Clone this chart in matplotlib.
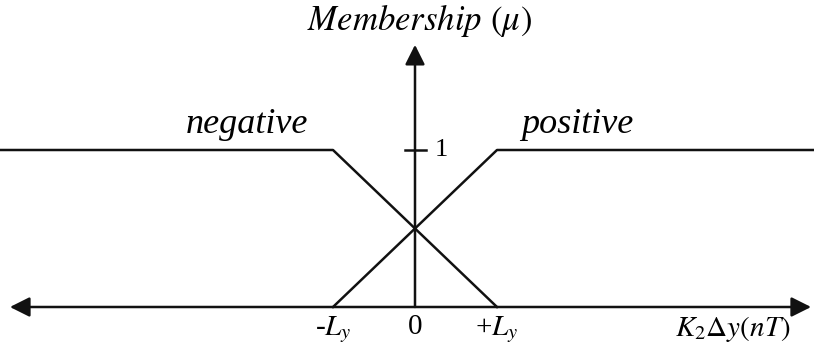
import numpy as np
import matplotlib.pyplot as plt

plt.rcParams['mathtext.fontset'] = 'stix'
plt.rcParams['font.family'] = ['Liberation Serif', 'DejaVu Serif']

# membership functions (x in units of L_y)
neg_x = [-5.2, -1.0, 1.0]
neg_mu = [1.0, 1.0, 0.0]
pos_x = [-1.0, 1.0, 5.0]
pos_mu = [0.0, 1.0, 1.0]

tick_pos = [-1.0, 0.0, 1.0]
tick_labels = [r'-$L_y$', '0', r'+$L_y$']

fig = plt.figure(figsize=(8.14, 3.52), dpi=100)
ax = fig.add_axes([0, 0, 1, 1])
ax.set_xlim(-415 / 82, 399 / 82)
ax.set_ylim(-45 / 157, 307 / 157)
ax.axis('off')

lc = '#111111'
ax.plot(neg_x, neg_mu, color=lc, lw=1.8)
ax.plot(pos_x, pos_mu, color=lc, lw=1.8)

# axes with arrow heads
ax.annotate('', xy=(-4.94, 0), xytext=(4.83, 0),
            arrowprops=dict(arrowstyle='<|-|>', color=lc, lw=1.8,
                            mutation_scale=30, shrinkA=0, shrinkB=0))
ax.annotate('', xy=(0, 1.67), xytext=(0, 0),
            arrowprops=dict(arrowstyle='-|>', color=lc, lw=1.8,
                            mutation_scale=30, shrinkA=0, shrinkB=0))

# tick mark at mu = 1
ax.plot([-0.12, 0.14], [1, 1], color=lc, lw=1.8)
ax.text(0.24, 1.0, '1', fontsize=19, ha='left', va='center')

for x, s in zip(tick_pos, tick_labels):
    ax.text(x, -0.045, s, fontsize=21, ha='center', va='top')

ax.text(3.87, -0.045, r'$K_2\Delta y(nT)$', fontsize=21, ha='center', va='top')
ax.text(0.05, 1.71, r'$Membership$ $(\mu)$', fontsize=25, ha='center', va='bottom')
ax.text(-2.05, 1.06, 'negative', fontsize=26, style='italic', ha='center', va='bottom')
ax.text(1.98, 1.06, 'positive', fontsize=26, style='italic', ha='center', va='bottom')

fig.savefig('out.png', dpi=100)
